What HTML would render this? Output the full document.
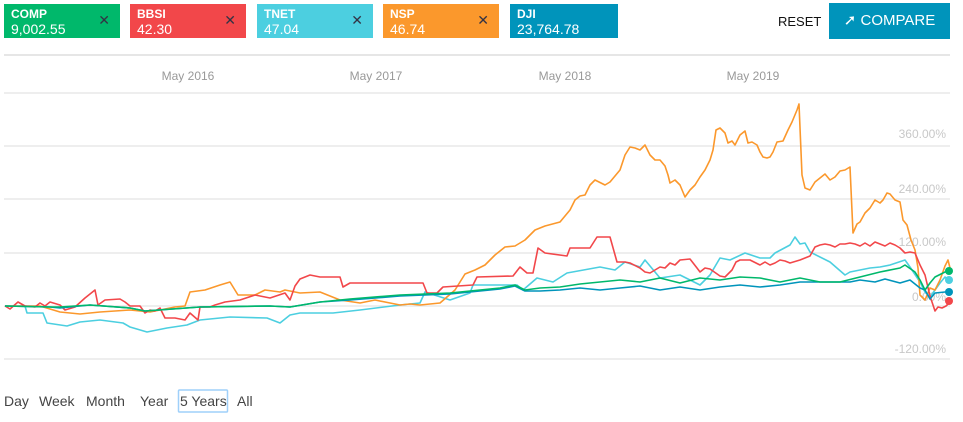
<!DOCTYPE html>
<html><head><meta charset="utf-8"><style>
body{margin:0;width:963px;height:422px;background:#fff;font-family:"Liberation Sans",sans-serif;position:relative;overflow:hidden}
.b{position:absolute;top:4px;height:34px;width:116px;color:#fff;box-sizing:border-box;padding:3px 0 0 7px;font-size:12px;line-height:14px;font-weight:bold}
.b .v{font-size:14px;line-height:17px;font-weight:normal}
.b .x{position:absolute;right:10px;top:9px;color:#334;font-size:14px;font-weight:normal}
.t{position:absolute;font-size:14px;color:#444;top:393px}
</style></head><body>
<div class="b" style="left:4px;background:#00b86b">COMP<div class="v">9,002.55</div><span class="x">✕</span></div>
<div class="b" style="left:130px;background:#f2474a">BBSI<div class="v">42.30</div><span class="x">✕</span></div>
<div class="b" style="left:257px;background:#4ccfe0">TNET<div class="v">47.04</div><span class="x">✕</span></div>
<div class="b" style="left:383px;background:#fb982c">NSP<div class="v">46.74</div><span class="x">✕</span></div>
<div class="b" style="left:510px;width:108px;background:#0094bb">DJI<div class="v">23,764.78</div></div>
<div style="position:absolute;left:778px;top:14px;font-size:13px;color:#111">RESET</div>
<div style="position:absolute;left:829px;top:3px;width:121px;height:36px;background:#0094bb;color:#fff;font-size:15px;line-height:36px;text-align:center">➚ COMPARE</div>
<svg width="963" height="422" style="position:absolute;left:0;top:0">
<line x1="4" y1="55" x2="950" y2="55" stroke="#ddd" stroke-width="1.5"/>
<g stroke="#e3e3e3" stroke-width="1.2">
<line x1="4" y1="93" x2="950" y2="93"/><line x1="4" y1="146" x2="950" y2="146"/><line x1="4" y1="199" x2="950" y2="199"/><line x1="4" y1="253" x2="950" y2="253"/><line x1="4" y1="306" x2="950" y2="306"/><line x1="4" y1="359" x2="950" y2="359"/></g>
<g font-size="12" fill="#999" text-anchor="middle"><text x="188" y="80">May 2016</text><text x="376" y="80">May 2017</text><text x="565" y="80">May 2018</text><text x="753" y="80">May 2019</text></g>
<g font-size="12" fill="#c8c8c8" text-anchor="end"><text x="946" y="138">360.00%</text><text x="946" y="193">240.00%</text><text x="946" y="246">120.00%</text><text x="946" y="301">0.00%</text><text x="946" y="353">-120.00%</text></g>
<g fill="none" stroke-width="1.6" stroke-linejoin="round">
<polyline stroke="#4ccfe0" points="5,306 25,306 27,313 43,313 47,323 67,326 80,322 100,320 123,323 130,327 147,332 167,328 187,325 200,320 230,317 267,318 280,323 290,315 300,313 333,313 360,310 400,305 420,303 425,292 450,300 470,293 473,285 500,285 517,285 523,290 537,278 553,282 567,273 600,267 615,270 625,262 640,267 645,260 660,278 680,275 700,285 710,275 720,258 730,260 745,253 760,258 770,258 775,253 790,245 795,237 800,244 805,243 810,252 830,262 845,275 850,272 870,268 880,267 890,265 905,260 910,267 920,282 925,292 930,297 935,290 940,283 945,277 949,280"/>
<polyline stroke="#fb982c" points="5,306 40,306 60,312 80,314 100,312 130,310 150,312 175,307 185,306 190,292 205,290 220,285 230,282 238,295 255,295 265,290 280,292 285,290 300,293 320,292 340,300 360,303 375,300 390,303 400,305 410,304 420,305 440,303 455,290 465,274 475,270 485,265 495,255 505,247 515,246 525,240 530,235 535,230 545,226 560,222 570,210 575,200 580,196 585,195 590,185 595,180 605,185 610,182 620,170 625,155 630,147 635,148 640,150 645,145 650,155 655,160 660,160 665,166 668,175 670,183 675,180 680,185 685,197 690,190 695,185 700,177 705,170 710,160 713,150 716,130 720,128 725,133 728,143 732,141 735,145 740,135 745,131 748,143 752,142 757,145 760,152 763,157 767,158 770,157 773,152 777,142 783,141 788,130 792,122 797,110 799,104 802,175 805,188 810,190 815,182 820,178 825,174 830,180 835,177 840,171 845,170 850,167 853,233 857,224 860,222 865,213 870,208 875,200 880,203 883,200 887,193 890,194 895,200 900,202 903,220 907,225 911,240 915,250 918,268 920,295 925,300 930,288 935,290 940,280 945,266 948,260 950,268"/>
<polyline stroke="#f2474a" points="5,306 10,309 18,302 25,306 35,307 40,303 45,306 50,302 60,305 65,310 75,307 85,298 95,290 98,305 105,300 120,299 125,302 130,306 140,306 145,313 150,310 155,311 160,308 165,318 175,318 185,320 190,313 198,320 200,307 210,307 215,305 225,302 240,300 255,295 270,298 285,293 290,300 295,286 300,279 310,275 320,277 340,277 343,287 350,283 423,283 427,293 437,293 443,287 473,285 477,277 513,276 520,267 527,273 533,273 538,248 545,253 567,256 570,248 590,248 597,237 610,237 617,262 625,262 630,263 640,268 645,272 650,273 655,270 660,267 665,268 670,263 675,265 680,260 690,259 697,268 700,272 705,268 710,269 720,276 725,277 732,270 736,262 740,260 750,260 760,265 765,262 770,265 775,263 780,260 785,261 790,263 800,260 810,256 815,247 820,245 825,244 830,245 835,247 840,244 845,244 850,243 855,244 860,246 865,243 870,246 875,242 880,244 885,246 890,243 895,245 900,248 905,253 910,252 915,253 920,265 925,275 930,296 935,311 938,307 942,308 946,306 950,302"/>
<polyline stroke="#0094bb" points="5,306 50,307 60,308 90,305 130,308 145,311 200,307 270,306 290,307 320,302 350,300 400,296 450,294 500,289 515,286 525,291 540,291 560,290 580,288 600,290 620,288 640,286 660,290 680,287 700,290 720,287 740,285 760,287 780,285 800,282 830,282 850,282 860,280 875,282 885,279 900,283 910,280 920,288 925,290 930,299 935,293 945,292 949,292"/>
<polyline stroke="#00b86b" points="5,306 50,307 60,307 90,305 130,308 145,311 200,307 270,306 290,307 320,302 350,299 400,295 450,293 500,288 515,285 525,290 540,288 560,287 580,284 600,282 620,280 640,282 660,278 680,283 700,278 720,280 740,277 760,278 780,282 800,278 820,282 840,282 860,277 880,272 900,268 905,265 915,272 920,280 925,290 930,283 935,277 945,272 949,271"/>
</g>
<circle cx="949" cy="280" r="4" fill="#4ccfe0"/><circle cx="949" cy="271" r="4" fill="#00b86b"/><circle cx="949" cy="292" r="4" fill="#0094bb"/><circle cx="949" cy="301" r="4" fill="#f2474a"/>
<rect x="178.5" y="390" width="49" height="22" fill="none" stroke="#9fd0fa" stroke-width="1.5" rx="1"/>
</svg>
<span class="t" style="left:4px">Day</span><span class="t" style="left:39px">Week</span><span class="t" style="left:86px">Month</span><span class="t" style="left:140px">Year</span><span class="t" style="left:180px">5 Years</span><span class="t" style="left:237px">All</span>
</body></html>
